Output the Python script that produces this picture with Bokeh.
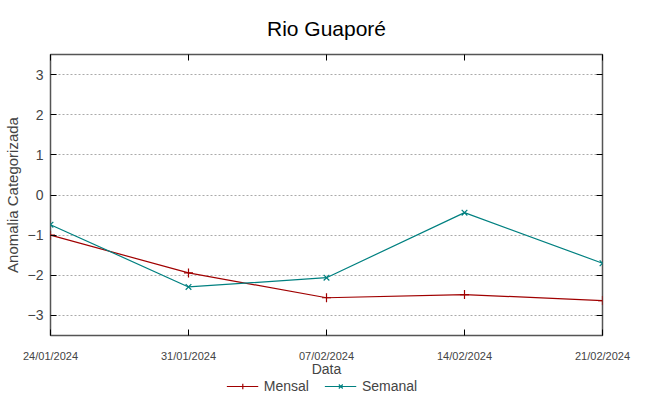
import pandas as pd
from bokeh.plotting import figure
from bokeh.layouts import column
from bokeh.models import (Range1d, FixedTicker, DatetimeTickFormatter, LinearAxis,
                          Legend, LegendItem, CustomJSTickFormatter)
from bokeh.embed import file_html
from bokeh.resources import INLINE

dates = ["2024-01-24", "2024-01-31", "2024-02-07", "2024-02-14", "2024-02-21"]
mensal = [-1.00, -1.94, -2.56, -2.48, -2.63]
semanal = [-0.74, -2.29, -2.06, -0.44, -1.70]
y_ticks = [-3, -2, -1, 0, 1, 2, 3]
series_names = ["Mensal", "Semanal"]

x = pd.to_datetime(dates)
x_ms = [int(d.timestamp() * 1000) for d in x]

FONT = "Liberation Sans"
RED = "#a00000"
TEAL = "#008080"

p = figure(frame_width=552, frame_height=281, output_backend="svg", toolbar_location=None,
           x_axis_type="datetime",
           x_range=Range1d(x_ms[0], x_ms[-1]), y_range=Range1d(-3.5, 3.5),
           title="Rio Guaporé",
           min_border_left=41, min_border_right=40, min_border_top=0, min_border_bottom=0)

p.title.align = "center"
p.title.text_font = FONT
p.title.text_font_style = "normal"
p.title.text_font_size = "21px"
p.title.text_color = "black"
p.title.standoff = 29

p.outline_line_color = "#555555"
p.outline_line_width = 1.5
p.outline_line_alpha = 1

p.xgrid.visible = False
p.ygrid.ticker = FixedTicker(ticks=y_ticks)
p.ygrid.grid_line_color = "#aaaaaa"
p.ygrid.grid_line_dash = "2 2"
p.ygrid.grid_line_width = 1

xa = p.xaxis[0]
xa.ticker = FixedTicker(ticks=x_ms)
fmt = "%d/%m/%Y"
xa.formatter = DatetimeTickFormatter(days=fmt, months=fmt, years=fmt, hours=fmt,
                                     hourmin=fmt, minutes=fmt, minsec=fmt, seconds=fmt,
                                     milliseconds=fmt, microseconds=fmt)
xa.axis_label = "Data"
xa.axis_line_color = None
xa.major_tick_in = 6
xa.major_tick_out = 0
xa.major_tick_line_color = "black"
xa.minor_tick_line_color = None
xa.major_label_text_font = FONT
xa.major_label_text_font_size = "11px"
xa.major_label_standoff = 14
xa.axis_label_text_font = FONT
xa.axis_label_text_font_style = "normal"
xa.axis_label_text_font_size = "14px"
xa.axis_label_standoff = -4

ya = p.yaxis[0]
ya.ticker = FixedTicker(ticks=y_ticks)
ya.axis_label = "Anomalia Categorizada"
ya.axis_line_color = None
ya.major_tick_in = 6
ya.major_tick_out = 0
ya.minor_tick_line_color = None
ya.major_label_text_font = FONT
ya.major_label_text_font_size = "14px"
ya.major_label_standoff = 7
ya.axis_label_text_font = FONT
ya.axis_label_text_font_style = "normal"
ya.axis_label_text_font_size = "15px"
ya.axis_label_standoff = 4

blank = CustomJSTickFormatter(code="return ''")
ra = LinearAxis(ticker=FixedTicker(ticks=y_ticks), formatter=blank,
                axis_line_color=None, major_tick_in=6, major_tick_out=0,
                minor_tick_line_color=None, major_label_standoff=0)
p.add_layout(ra, "right")
ta = LinearAxis(ticker=FixedTicker(ticks=x_ms), formatter=blank,
                axis_line_color=None, major_tick_in=6, major_tick_out=0,
                minor_tick_line_color=None, major_label_standoff=0)
p.add_layout(ta, "above")

p.line(x, mensal, line_color=RED, line_width=1.2)
p.scatter(x, mensal, marker="cross", size=9, line_color=RED, line_width=1.2)
p.line(x, semanal, line_color=TEAL, line_width=1.2)
p.scatter(x, semanal, marker="x", size=8, line_color=TEAL, line_width=1.2)

# separate strip holding the legend below the chart (its ranges keep the data out of view)
lf = figure(width=633, height=14, output_backend="svg", toolbar_location=None,
            x_range=Range1d(0, 1), y_range=Range1d(0, 1),
            x_axis_location=None, y_axis_location=None,
            min_border_left=0, min_border_right=0, min_border_top=0, min_border_bottom=0)
lf.outline_line_color = None
lf.grid.visible = False
k1 = lf.line(x_ms, mensal, line_color=RED, line_width=1.2)
s1 = lf.scatter(x_ms, mensal, marker="cross", size=9, line_color=RED, line_width=1.2)
k2 = lf.line(x_ms, semanal, line_color=TEAL, line_width=1.2)
s2 = lf.scatter(x_ms, semanal, marker="x", size=8, line_color=TEAL, line_width=1.2)
legend = Legend(items=[LegendItem(label=series_names[0], renderers=[k1, s1]),
                       LegendItem(label=series_names[1], renderers=[k2, s2])],
                orientation="horizontal", location="center",
                label_text_font=FONT, label_text_font_size="14px",
                border_line_color=None, background_fill_alpha=0,
                glyph_width=32, spacing=15, padding=0, margin=0,
                label_standoff=6, label_height=14, glyph_height=14)
lf.add_layout(legend, "center")

layout = column(p, lf, spacing=0)
open("out.html", "w").write(file_html(layout, INLINE))
